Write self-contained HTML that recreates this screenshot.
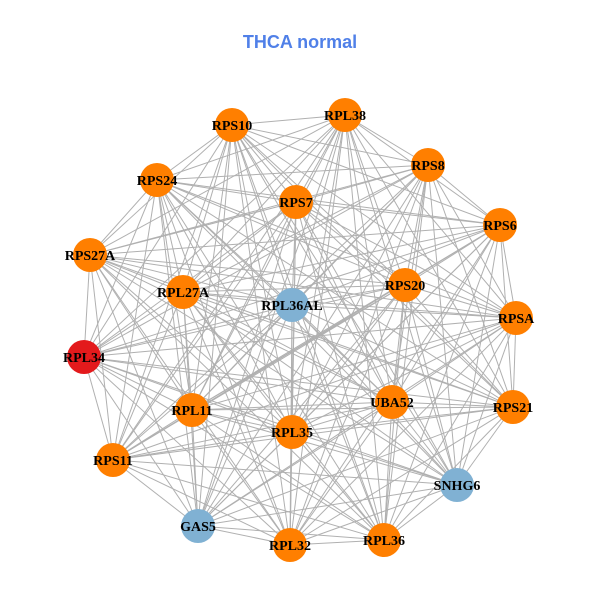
<!DOCTYPE html>
<html><head><meta charset="utf-8"><style>
html,body{margin:0;padding:0;background:#fff;}
</style></head><body>
<svg id="s" width="600" height="600" xmlns="http://www.w3.org/2000/svg">
<text x="300" y="48" text-anchor="middle" font-family="Liberation Sans, sans-serif" font-weight="bold" font-size="18" fill="#5080E8">THCA normal</text>
<g id="e" stroke="#b0b0b0" stroke-width="1"></g>
<g id="n"></g>
</svg>
<script>
var N=[["RPS10",232,125,0],["RPL38",345,115,0],["RPS8",428,165,0],["RPS24",157,180,0],["RPS7",296,202,0],["RPS6",500,225,0],["RPS27A",90,255,0],["RPL27A",183,292,0],["RPL36AL",292,305,1],["RPS20",405,285,0],["RPSA",516,318,0],["RPL34",84,357,2],["UBA52",392,402,0],["RPS21",513,407,0],["RPL11",192,410,0],["RPL35",292,432,0],["RPS11",113,460,0],["SNHG6",457,485,1],["GAS5",198,526,1],["RPL32",290,545,0],["RPL36",384,540,0]];
var C=["#FF7F00","#80B1D3","#E31A1C"];
var ns="http://www.w3.org/2000/svg",e=document.getElementById("e"),g=document.getElementById("n");
for(var i=0;i<N.length;i++)for(var j=i+1;j<N.length;j++){var l=document.createElementNS(ns,"line");l.setAttribute("x1",N[i][1]);l.setAttribute("y1",N[i][2]);l.setAttribute("x2",N[j][1]);l.setAttribute("y2",N[j][2]);e.appendChild(l);}
N.forEach(function(d){var c=document.createElementNS(ns,"circle");c.setAttribute("cx",d[1]);c.setAttribute("cy",d[2]);c.setAttribute("r",17);c.setAttribute("fill",C[d[3]]);g.appendChild(c);});
N.forEach(function(d){var t=document.createElementNS(ns,"text");t.setAttribute("x",d[1]);t.setAttribute("y",d[2]+5);t.setAttribute("text-anchor","middle");t.setAttribute("font-family","Liberation Serif, serif");t.setAttribute("font-weight","bold");t.setAttribute("font-size","14");t.textContent=d[0];g.appendChild(t);});
</script>
</body></html>
